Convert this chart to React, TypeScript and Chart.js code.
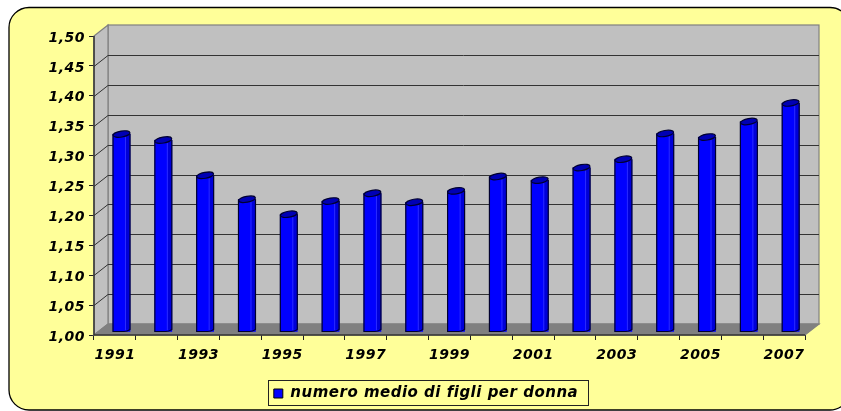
import { useEffect, useRef } from "react";
import { Chart, registerables } from "chart.js";

Chart.register(...registerables);

const years = ["1991","1992","1993","1994","1995","1996","1997","1998","1999","2000","2001","2002","2003","2004","2005","2006","2007"];
const children = [1.331,1.321,1.262,1.222,1.197,1.219,1.232,1.217,1.236,1.26,1.254,1.275,1.289,1.332,1.326,1.352,1.383];
const seriesName = "numero medio di figli per donna";

const FONT = "'DejaVu Sans'";
const DX = 14, DY = 11;          // depth of the 3D box
const BAR_DX = 6.6, BAR_DY = 3;  // where bars sit inside that depth
const SPACING = "0.5px";

const framePlugin = {
  id: "frame",
  beforeLayout(chart: any) {
    chart.ctx.letterSpacing = SPACING;
  },
  afterLayout(chart: any) {
    const l = chart.legend;
    l.left = 0;
    l.right = 852;
    const y = chart.scales.y;
    if (!y.__shifted) {
      y.__shifted = true;
      const orig = y.drawLabels.bind(y);
      y.drawLabels = (area: any) => {
        chart.ctx.save();
        chart.ctx.translate(-1, 2);
        orig(area);
        chart.ctx.restore();
      };
    }
  },
  beforeDraw(chart: any) {
    const { ctx } = chart;
    ctx.letterSpacing = SPACING;
    ctx.save();
    ctx.beginPath();
    ctx.roundRect(9, 7.5, 841, 402.5, 20);
    ctx.fillStyle = "#FFFF99";
    ctx.fill();
    ctx.strokeStyle = "#000";
    ctx.lineWidth = 1.3;
    ctx.stroke();
    // legend box
    ctx.strokeStyle = "#222";
    ctx.lineWidth = 1;
    ctx.strokeRect(268.5, 380.5, 320, 25);
    ctx.restore();
  },
};

const wallsPlugin = {
  id: "walls",
  beforeDatasetsDraw(chart: any) {
    const { ctx, chartArea: a, scales } = chart;
    const y = scales.y;
    ctx.save();
    // back wall
    ctx.fillStyle = "#C0C0C0";
    ctx.fillRect(a.left + DX, a.top - DY, a.right - a.left, a.bottom - a.top);
    ctx.strokeStyle = "#808080";
    ctx.lineWidth = 1.2;
    ctx.strokeRect(a.left + DX, a.top - DY, a.right - a.left, a.bottom - a.top);
    // left wall
    ctx.beginPath();
    ctx.moveTo(a.left, a.top);
    ctx.lineTo(a.left + DX, a.top - DY);
    ctx.lineTo(a.left + DX, a.bottom - DY);
    ctx.lineTo(a.left, a.bottom);
    ctx.closePath();
    ctx.fillStyle = "#C0C0C0";
    ctx.fill();
    ctx.stroke();
    // floor
    ctx.beginPath();
    ctx.moveTo(a.left, a.bottom);
    ctx.lineTo(a.left + DX, a.bottom - DY);
    ctx.lineTo(a.right + DX, a.bottom - DY);
    ctx.lineTo(a.right, a.bottom);
    ctx.closePath();
    ctx.fillStyle = "#808080";
    ctx.fill();
    ctx.stroke();
    // grid
    ctx.strokeStyle = "#333";
    ctx.lineWidth = 1;
    y.ticks.forEach((t: any) => {
      if (t.value <= 1 || t.value >= 1.5) return;
      const py = Math.round(y.getPixelForValue(t.value)) + 0.5;
      ctx.beginPath();
      ctx.moveTo(a.left, py);
      ctx.lineTo(a.left + DX, py - DY);
      ctx.lineTo(a.right + DX, py - DY);
      ctx.stroke();
    });
    // front edge
    ctx.strokeStyle = "#333";
    ctx.lineWidth = 1.5;
    ctx.beginPath();
    ctx.moveTo(a.left, a.top);
    ctx.lineTo(a.left, a.bottom);
    ctx.lineTo(a.right, a.bottom);
    ctx.stroke();
    ctx.restore();
  },
  beforeDatasetDraw(chart: any) {
    chart.ctx.save();
    chart.ctx.translate(BAR_DX, -BAR_DY);
  },
  afterDatasetDraw(chart: any, args: any) {
    const { ctx } = chart;
    const meta = chart.getDatasetMeta(args.index);
    meta.data.forEach((bar: any) => {
      const w = bar.width;
      const l = bar.x - w / 2;
      const r = bar.x + w / 2;
      const top = bar.y;
      const base = bar.base;
      // darker band on the right
      ctx.fillStyle = "#0000D8";
      ctx.fillRect(r - 4, top, 4, base - top - 2);
      ctx.fillStyle = "#2A2AFF";
      ctx.fillRect(r - 5, top, 1, base - top - 1);
      // outline with a sloped foot
      ctx.strokeStyle = "#000030";
      ctx.lineWidth = 1.2;
      ctx.beginPath();
      ctx.moveTo(l, top);
      ctx.lineTo(l, base);
      ctx.lineTo(r - 6, base);
      ctx.quadraticCurveTo(r - 3, base, r, base - 2);
      ctx.lineTo(r, top);
      ctx.stroke();
      // tilted elliptical cap
      ctx.beginPath();
      ctx.ellipse(bar.x, top, w / 2, 3, -0.17, 0, Math.PI * 2);
      ctx.fillStyle = "#0000B4";
      ctx.fill();
      ctx.strokeStyle = "#000030";
      ctx.stroke();
    });
    ctx.restore();
  },
};

export default function App() {
  const ref = useRef<HTMLCanvasElement>(null);
  useEffect(() => {
    const chart = new Chart(ref.current!, {
      type: "bar",
      data: {
        labels: years,
        datasets: [{
          label: seriesName,
          data: children,
          base: 1,
          backgroundColor: "#0000FF",
          borderWidth: 0,
          barThickness: 17,
        }],
      },
      plugins: [framePlugin, wallsPlugin],
      options: {
        animation: false,
        responsive: false,
        layout: { padding: { left: 0, right: 36, top: 36, bottom: 0 } },
        plugins: {
          tooltip: { enabled: false },
          legend: {
            position: "bottom",
            labels: {
              color: "#000",
              boxWidth: 9,
              boxHeight: 9,
              padding: 8,
              font: { family: FONT, size: 15, weight: "bold", style: "italic" },
              generateLabels: () => [{
                text: seriesName,
                fillStyle: "#0000FF",
                strokeStyle: "#000",
                lineWidth: 1,
                hidden: false,
                datasetIndex: 0,
              }],
            },
          },
        },
        scales: {
          x: {
            offset: true,
            afterFit: (s: any) => { s.height = 76 - s.chart.legend.height; },
            border: { display: false },
            grid: { drawOnChartArea: false, drawTicks: true, tickLength: 5, color: "#222", offset: true },
            ticks: {
              autoSkip: false,
              maxRotation: 0,
              minRotation: 0,
              padding: 7,
              color: "#000",
              font: { family: FONT, size: 14, weight: "bold", style: "italic" },
              callback(_v: any, i: number) { return i % 2 === 0 ? years[i] : ""; },
            },
          },
          y: {
            min: 1,
            max: 1.5,
            afterFit: (s: any) => { s.width = 94; },
            border: { display: false },
            grid: { drawOnChartArea: false, drawTicks: true, tickLength: 5, color: "#222" },
            ticks: {
              stepSize: 0.05,
              padding: 3,
              color: "#000",
              font: { family: FONT, size: 14, weight: "bold", style: "italic" },
              callback: (v: any) => Number(v).toFixed(2).replace(".", ","),
            },
          },
        },
      },
    } as any);
    return () => chart.destroy();
  }, []);
  return (
    <canvas
      ref={ref}
      width={841}
      height={411}
      style={{ position: "absolute", left: 0, top: 0, width: 841, height: 411 }}
    />
  );
}
